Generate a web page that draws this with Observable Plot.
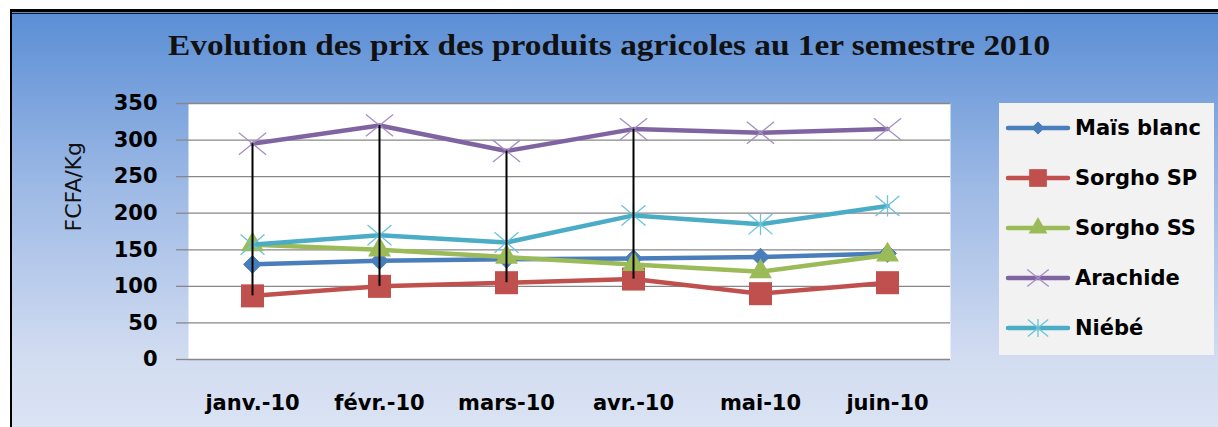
<!DOCTYPE html>
<html>
<head>
<meta charset="utf-8">
<script src="https://cdn.jsdelivr.net/npm/d3@7"></script>
<script src="https://cdn.jsdelivr.net/npm/@observablehq/plot@0.6"></script>
<style>
  html, body { margin: 0; padding: 0; background: #fff; }
  #wrap { position: relative; width: 1218px; height: 427px; overflow: hidden; background: #fff; }
  #bg { position: absolute; left: 10px; top: 9px; width: 1230px; height: 440px;
        border-top: 3px solid #000; border-left: 2px solid #000; box-sizing: border-box;
        background: linear-gradient(to bottom, #5a8ed5 0%, #9db9e5 40%, #d3ddf1 80%, #dde5f4 100%); }
  #inner { position: absolute; left: 12px; top: 13px; width: 1230px; height: 2px;
        border-top: 1px solid #111; box-sizing: border-box; }
  #title { position: absolute; top: 28px; left: 0; width: 1218px; text-align: center;
        font-family: "Liberation Serif", serif; font-weight: bold; font-size: 30px; color: #111;
        white-space: nowrap; }
  #title span { display: inline-block; transform-origin: center; }
  #chart { position: absolute; left: 0; top: 0; }
  #legend { position: absolute; left: 999px; top: 103px; width: 215px; height: 252px; background: #f2f2f2; }
  .item { position: absolute; left: 6px; height: 30px; display: flex; align-items: center;
        font-family: "DejaVu Sans", sans-serif; font-weight: bold; font-size: 21px; color: #000; white-space: nowrap; }
  .item svg { margin-right: 4px; }
</style>
</head>
<body>
<div id="wrap">
  <div id="bg"></div>
  <div id="inner"></div>
  <div id="title"><span>Evolution des prix des produits agricoles au 1er semestre 2010</span></div>
  <div id="chart"></div>
  <div id="legend"></div>
</div>
<script>
// ---- data ----
const months = ["janv.-10", "févr.-10", "mars-10", "avr.-10", "mai-10", "juin-10"];
const maisBlanc = [130, 135, 137, 138, 140, 145];
const sorghoSP = [87, 100, 105, 110, 90, 105];
const sorghoSS = [157, 150, 140, 130, 120, 143];
const arachide = [295, 320, 285, 315, 310, 315];
const niebe = [157, 170, 160, 197, 185, 210];
const seriesNames = ["Maïs blanc", "Sorgho SP", "Sorgho SS", "Arachide", "Niébé"];
const yTicks = [0, 50, 100, 150, 200, 250, 300, 350];
const dropMonths = ["janv.-10", "févr.-10", "mars-10", "avr.-10"];

// ---- custom symbols ----
const timesSym = { draw(ctx, size) { const r = Math.sqrt(size) * 0.55; const h = r * 0.8;
  ctx.moveTo(-r, -h); ctx.lineTo(r, h); ctx.moveTo(-r, h); ctx.lineTo(r, -h); } };
const asteriskSym = { draw(ctx, size) { const r = Math.sqrt(size) * 0.52; const h = r * 0.85;
  ctx.moveTo(-r, -h); ctx.lineTo(r, h); ctx.moveTo(-r, h); ctx.lineTo(r, -h);
  ctx.moveTo(0, -h * 1.05); ctx.lineTo(0, h * 1.05); } };

const values = [maisBlanc, sorghoSP, sorghoSS, arachide, niebe];
const styles = [
  { color: "#4a7ebb", symbol: "diamond2", r: 8, fill: "#4a7ebb", stroke: "#4a7ebb", sw: 1, lr: 5.5 },
  { color: "#c0504d", symbol: "square", r: 13, fill: "#c0504d", stroke: "#c0504d", sw: 0, lr: 10 },
  { color: "#9bbb59", symbol: "triangle", r: 8.5, fill: "#9bbb59", stroke: "#9bbb59", sw: 0, lr: 7 },
  { color: "#8064a2", symbol: timesSym, r: 14, fill: "none", stroke: "#a58fc4", sw: 1.3, lr: 11 },
  { color: "#4bacc6", symbol: asteriskSym, r: 13, fill: "none", stroke: "#6cc3da", sw: 1.3, lr: 11 }
];

const rows = seriesNames.flatMap((s, k) => months.map((m, i) => ({ series: s, month: m, value: values[k][i] })));
const drops = dropMonths.map(m => { const i = months.indexOf(m); return { month: m, lo: sorghoSP[i], hi: arachide[i] }; });

const marks = [
  Plot.frame({ fill: "white", stroke: null }),
  Plot.gridY(yTicks, { stroke: "#878787", strokeOpacity: 1, strokeWidth: 1.3 }),
  Plot.axisY(yTicks, { tickSize: 12, tickPadding: 19, stroke: "#878787", strokeWidth: 1.3,
    fontSize: 21, fontWeight: "bold", fontFamily: "DejaVu Sans", fill: "#000", label: null }),
  Plot.axisX({ tickSize: 0, tickPadding: 36, fontSize: 21, fontWeight: "bold", fontFamily: "DejaVu Sans", fill: "#000", label: null }),
  Plot.text(["FCFA/Kg"], { frameAnchor: "left", dx: -115, rotate: -90, fontSize: 22, fontFamily: "DejaVu Sans", fill: "#111" })
];
seriesNames.forEach((s, k) => {
  const st = styles[k];
  const d = rows.filter(r => r.series === s);
  marks.push(Plot.line(d, { x: "month", y: "value", stroke: st.color, strokeWidth: 4.5, strokeLinejoin: "round", strokeLinecap: "round" }));
  marks.push(Plot.dot(d, { x: "month", y: "value", symbol: () => st.symbol, r: st.r, fill: st.fill, stroke: st.stroke, strokeWidth: st.sw }));
});
marks.push(Plot.ruleX(drops, { x: "month", y1: "lo", y2: "hi", stroke: "#000", strokeWidth: 2 }));

const chart = Plot.plot({
  width: 1218, height: 427,
  marginLeft: 188, marginRight: 268, marginTop: 103, marginBottom: 68,
  style: { background: "transparent", overflow: "visible" },
  x: { type: "point", domain: months, padding: 0.5 },
  y: { domain: [0, 350] },
  symbol: { type: "identity" },
  marks
});
document.getElementById("chart").appendChild(chart);

// ---- legend ----
const legend = d3.select("#legend");
seriesNames.forEach((s, k) => {
  const st = styles[k];
  const item = legend.append("div").attr("class", "item").style("top", (10 + k * 50) + "px");
  const svg = item.append("svg").attr("width", 66).attr("height", 30);
  svg.append("line").attr("x1", 3).attr("x2", 63).attr("y1", 15).attr("y2", 15)
    .attr("stroke", st.color).attr("stroke-width", 4.5).attr("stroke-linecap", "round");
  const dsym = st.symbol === "diamond2" ? d3.symbolDiamond2 : st.symbol === "square" ? d3.symbolSquare :
               st.symbol === "triangle" ? d3.symbolTriangle : st.symbol;
  svg.append("path").attr("transform", "translate(33,15)")
    .attr("d", d3.symbol(dsym, Math.PI * st.lr * st.lr)())
    .attr("fill", st.fill).attr("stroke", st.stroke).attr("stroke-width", st.sw);
  item.append("span").text(s);
});

// ---- fit title width ----
const span = document.querySelector("#title span");
const w = span.getBoundingClientRect().width;
span.style.transform = `scaleX(${882 / w})`;
</script>
</body>
</html>
